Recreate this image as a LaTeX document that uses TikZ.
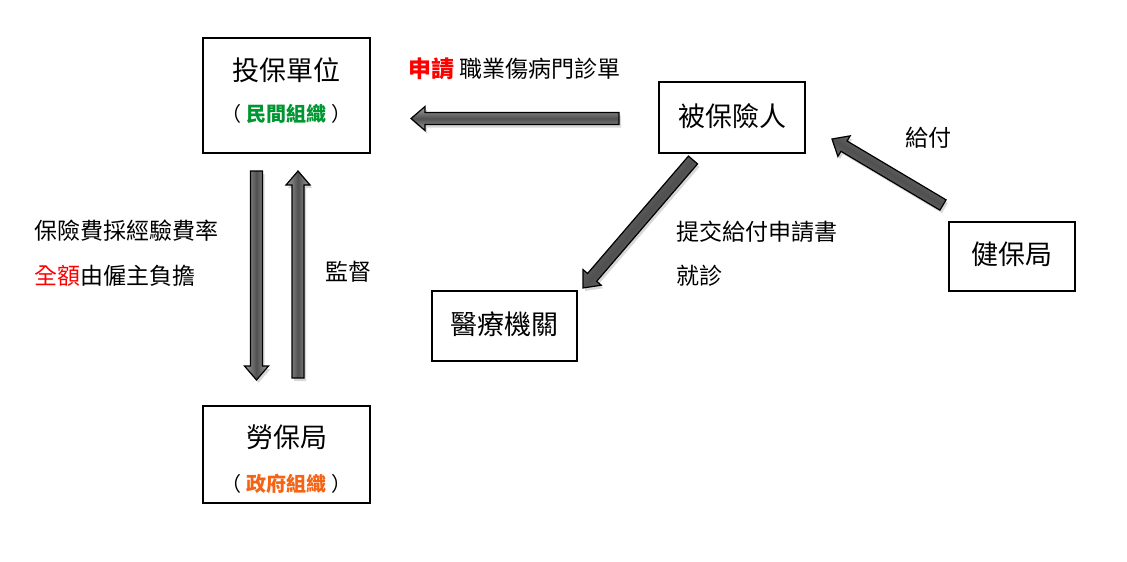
\documentclass[tikz,border=0pt]{standalone}
\usepackage{fontspec}
\setmainfont{Noto Sans CJK TC}
\usetikzlibrary{calc,shadows}
\definecolor{myred}{RGB}{255,0,0}
\definecolor{mygreen}{RGB}{0,150,50}
\definecolor{myorange}{RGB}{245,100,20}
\definecolor{arrowmid}{RGB}{80,80,80}
\definecolor{arrowedge}{RGB}{160,160,160}
\tikzset{
  box/.style={draw=black, line width=2pt, fill=white, inner sep=0pt},
  title/.style={font=\fontsize{27}{31}\selectfont, inner sep=0pt},
  sub/.style={font=\fontsize{20}{24}\selectfont, inner sep=0pt},
  lbl/.style={font=\fontsize{23}{27}\selectfont, inner sep=0pt, anchor=west},
  blk/.style={draw=black, line width=1.2pt, top color=arrowedge, bottom color=arrowedge, middle color=arrowmid,
    drop shadow={shadow xshift=2pt, shadow yshift=-3pt, opacity=.3, fill=gray}}
}
\newcommand\blkarrow[2]{%
  \path let \p1=($(#2)-(#1)$) in \pgfextra{%
    \pgfmathparse{atan2(\y1,\x1)}\xdef\myang{\pgfmathresult}%
    \pgfmathparse{veclen(\x1,\y1)}\xdef\mylen{\pgfmathresult}};
  \begin{scope}[shift={(#1)}, rotate=\myang]
    \shade[blk, shading angle=\myang] (0,-6) -- (\mylen-14,-6) -- (\mylen-14,-12) -- (\mylen,0)
      -- (\mylen-14,12) -- (\mylen-14,6) -- (0,6) -- cycle;
  \end{scope}}
\newcommand\paren[2]{（\hspace{5pt}{\bfseries\color{#1}#2}\hspace{5pt}）}
\begin{document}
\begin{tikzpicture}[x=1pt,y=-1pt]
\useasboundingbox[fill=white] (0,0) rectangle (1127,562);
% boxes
\node[box, minimum width=167, minimum height=115] (tb) at (286.5,95.5) {};
\node[title] (tbt) at (286.5,70) {投保單位};
\node[sub] (tbs) at (286.5,114) {\paren{mygreen}{民間組織}};
\node[box, minimum width=167, minimum height=97] (lb) at (286.5,454.5) {};
\node[title] (lbt) at (286.5,437) {勞保局};
\node[sub] (lbs) at (286.5,484) {\paren{myorange}{政府組織}};
\node[box, minimum width=146, minimum height=71] (bb) at (732,117.5) {};
\node[title] (bbt) at (732,116) {被保險人};
\node[box, minimum width=126, minimum height=69] (jb) at (1012,256.5) {};
\node[title] (jbt) at (1012,254) {健保局};
\node[box, minimum width=145, minimum height=70] (yl) at (504.5,326) {};
\node[title] (ylt) at (504.5,324) {醫療機關};
% labels
\node[lbl] (l1) at (408,69) {{\bfseries\color{myred}申請} 職業傷病門診單};
\node[lbl] (l2) at (34,231) {保險費採經驗費率};
\node[lbl] (l3) at (34,276) {{\color{myred}全額}由僱主負擔};
\node[lbl] (l4) at (325,272) {監督};
\node[lbl] (l5) at (676,232) {提交給付申請書};
\node[lbl] (l6) at (676,276) {就診};
\node[lbl] (l7) at (905,138) {給付};
% arrow end points
\coordinate (a1s) at (619,118.5);
\coordinate (a1e) at (411,118.5);
\coordinate (a2s) at (256.5,171);
\coordinate (a2e) at (256.5,380);
\coordinate (a3s) at (298,378);
\coordinate (a3e) at (298,171);
\coordinate (a4s) at (693,160);
\coordinate (a4e) at (583,288);
\coordinate (a5s) at (943,205);
\coordinate (a5e) at (832,139);
\blkarrow{a1s}{a1e}
\blkarrow{a2s}{a2e}
\blkarrow{a3s}{a3e}
\blkarrow{a4s}{a4e}
\blkarrow{a5s}{a5e}
\end{tikzpicture}
\end{document}
